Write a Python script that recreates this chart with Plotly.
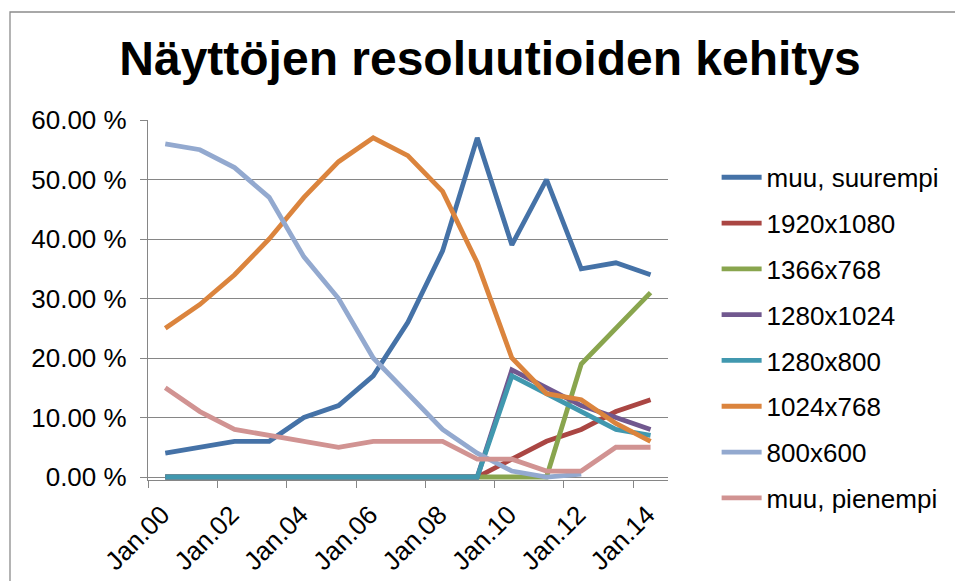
import plotly.graph_objects as go

# vuodet (Excel piirsi pisteet vuosivälin keskelle)
years = list(range(2000, 2015))
dates = [f"{y}-07-01" for y in years]

series_names = ["muu, suurempi", "1920x1080", "1366x768", "1280x1024",
                "1280x800", "1024x768", "800x600", "muu, pienempi"]

muu_suurempi = [4, 5, 6, 6, 10, 12, 17, 26, 38, 57, 39, 50, 35, 36, 34]
r1920x1080 = [0, 0, 0, 0, 0, 0, 0, 0, 0, 0, 3, 6, 8, 11, 13]
r1366x768 = [0, 0, 0, 0, 0, 0, 0, 0, 0, 0, 0, 0, 19, 25, 31]
r1280x1024 = [0, 0, 0, 0, 0, 0, 0, 0, 0, 0, 18, 15, 12, 10, 8]
r1280x800 = [0, 0, 0, 0, 0, 0, 0, 0, 0, 0, 17, 14, 11, 8, 7]
r1024x768 = [25, 29, 34, 40, 47, 53, 57, 54, 48, 36, 20, 14, 13, 9, 6]
r800x600 = [56, 55, 52, 47, 37, 30, 20, 14, 8, 4, 1, 0, 0.5, None, None]
muu_pienempi = [15, 11, 8, 7, 6, 5, 6, 6, 6, 3, 3, 1, 1, 5, 5]

values = [muu_suurempi, r1920x1080, r1366x768, r1280x1024,
          r1280x800, r1024x768, r800x600, muu_pienempi]
colors = ["#4572A7", "#AA4643", "#89A54E", "#71588F",
          "#4198AF", "#DB843D", "#93A9CF", "#D19392"]

FONT = "Liberation Sans, Arial, sans-serif"

fig = go.Figure()
for name, vals, col in zip(series_names, values, colors):
    fig.add_trace(go.Scatter(x=dates, y=vals, name=name, mode="lines",
                             legendgroup=name,
                             line=dict(color=col, width=4.8)))

# harmaa kehys koko kaavion ympärille (sivun 8px marginaali huomioitu)
fig.add_shape(type="rect", xref="paper", yref="paper",
              x0=(2 - 140) / 520, x1=1.7, y0=-0.4, y1=(472 - 4) / 360,
              line=dict(color="#8c8c8c", width=1.3), layer="below")

fig.update_layout(
    width=963, height=581,
    margin=dict(l=140, r=303, t=112, b=109, autoexpand=False),
    paper_bgcolor="white", plot_bgcolor="white",
    font=dict(family=FONT, size=26, color="black"),
    title=dict(text="Näyttöjen resoluutioiden kehitys",
               font=dict(family=FONT, size=48, color="black", weight="bold"),
               x=482 / 963, xanchor="center", xref="container",
               y=1 - 50 / 581, yanchor="middle", yref="container"),
    legend=dict(x=1.0935, xanchor="left", y=0.906, yanchor="top",
                font=dict(family=FONT, size=26, color="black"),
                itemwidth=40, tracegroupgap=9, maxheight=600,
                bgcolor="rgba(0,0,0,0)"),
    showlegend=True,
)

fig.update_xaxes(type="date", range=["2000-01-01", "2015-01-01"],
                 tick0="2000-01-01", dtick="M24", tickformat="%b.%y",
                 tickangle=-45, ticks="outside", ticklen=7,
                 tickcolor="#868686", tickwidth=1.3,
                 ticklabelshift=14, ticklabelstandoff=1,
                 showline=True, linecolor="#868686", linewidth=1.3,
                 showgrid=False, zeroline=False,
                 tickfont=dict(family=FONT, size=26, color="black"))

fig.update_yaxes(range=[-0.5, 60], tick0=0, dtick=10,
                 tickformat=".2f", ticksuffix=" %",
                 ticks="outside", ticklen=7, tickcolor="#868686", tickwidth=1.3,
                 ticklabelstandoff=8,
                 showline=True, linecolor="#868686", linewidth=1.3,
                 showgrid=True, gridcolor="#868686", gridwidth=1.3,
                 zeroline=False,
                 tickfont=dict(family=FONT, size=26, color="black"))

fig.write_html("out.html")
